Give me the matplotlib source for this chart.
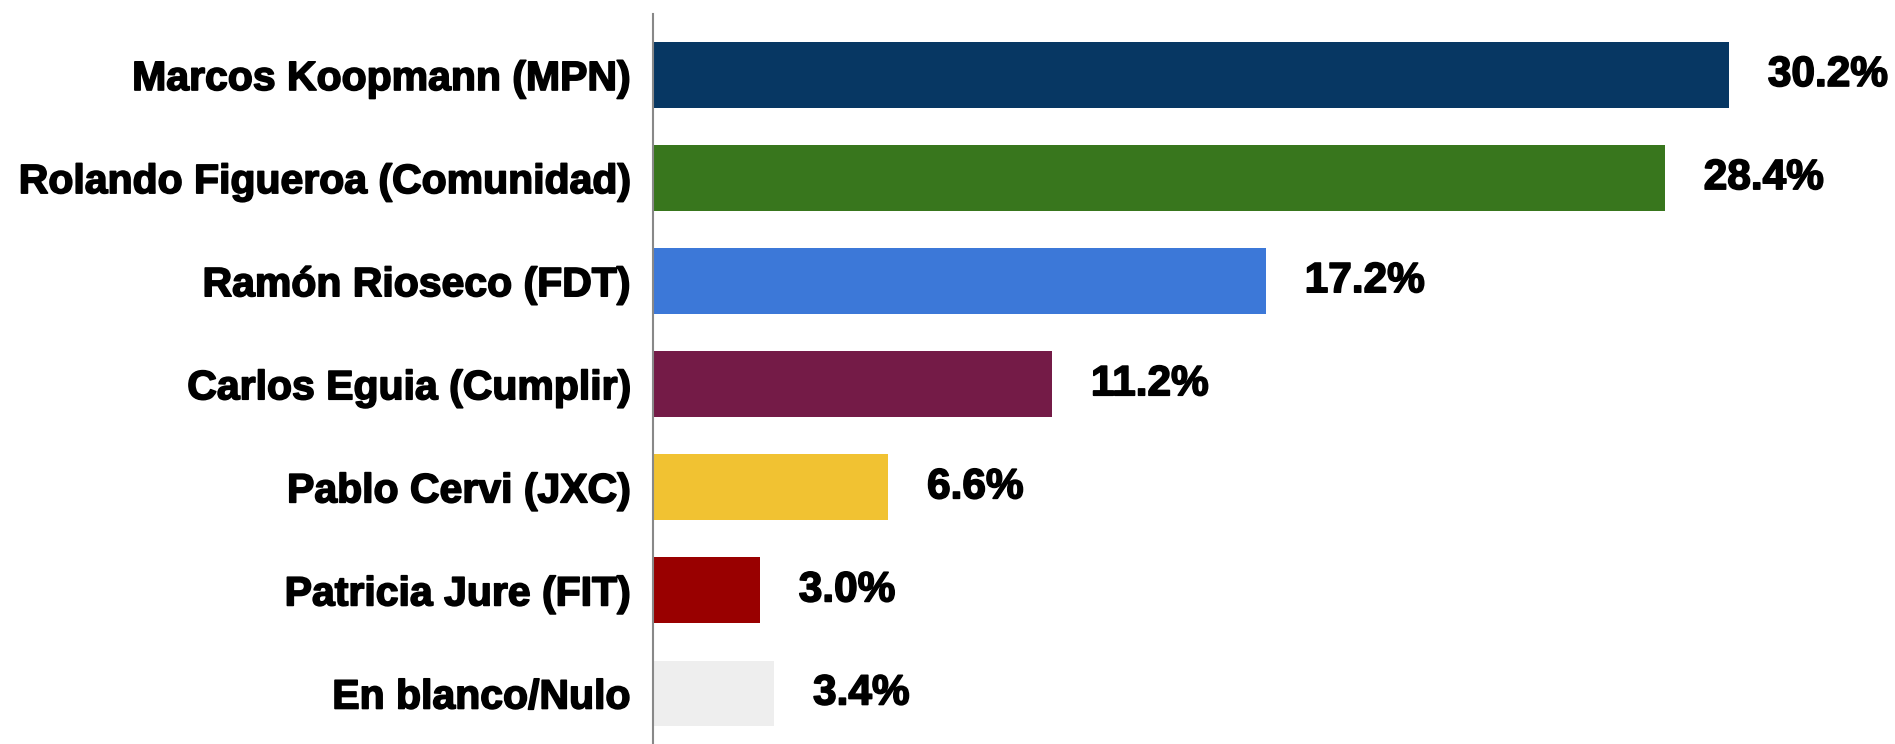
import matplotlib.pyplot as plt
import matplotlib.patheffects as pe

plt.rcParams['font.family'] = ['Liberation Sans', 'DejaVu Sans']

# datos
candidatos = ['Marcos Koopmann (MPN)', 'Rolando Figueroa (Comunidad)', 'Ramón Rioseco (FDT)',
              'Carlos Eguia (Cumplir)', 'Pablo Cervi (JXC)', 'Patricia Jure (FIT)', 'En blanco/Nulo']
votos = [30.2, 28.4, 17.2, 11.2, 6.6, 3.0, 3.4]
colores = ['#073763', '#38761d', '#3c78d8', '#741b47', '#f1c232', '#990000', '#eeeeee']

fig = plt.figure(figsize=(18.95, 7.44), dpi=100)
ax = fig.add_axes([653 / 1895, 0, 1 - 653 / 1895, 730 / 744])

# trazo extra para que el texto se vea mas grueso
grueso = [pe.withStroke(linewidth=1.2, foreground='black')]

y = range(len(candidatos))
ax.barh(y, votos, height=0.64, color=colores)

# etiquetas de porcentaje
for i, v in enumerate(votos):
    ax.annotate(f'{v:.1f}%', (v, i), xytext=(28, 0), textcoords='offset points',
                va='center', ha='left', fontsize=30.5, fontweight='bold', path_effects=grueso)

ax.set_yticks(list(y))
ax.set_yticklabels(candidatos, fontsize=29.5, fontweight='bold', path_effects=grueso)
ax.tick_params(axis='y', length=0, pad=16)
ax.set_xticks([])
ax.set_xlim(0, 34.86)
ax.set_ylim(6.49, -0.592)

for s in ['top', 'right', 'bottom']:
    ax.spines[s].set_visible(False)
ax.spines['left'].set_color('#888888')
ax.spines['left'].set_linewidth(1.5)

plt.savefig('out.png', dpi=100)
